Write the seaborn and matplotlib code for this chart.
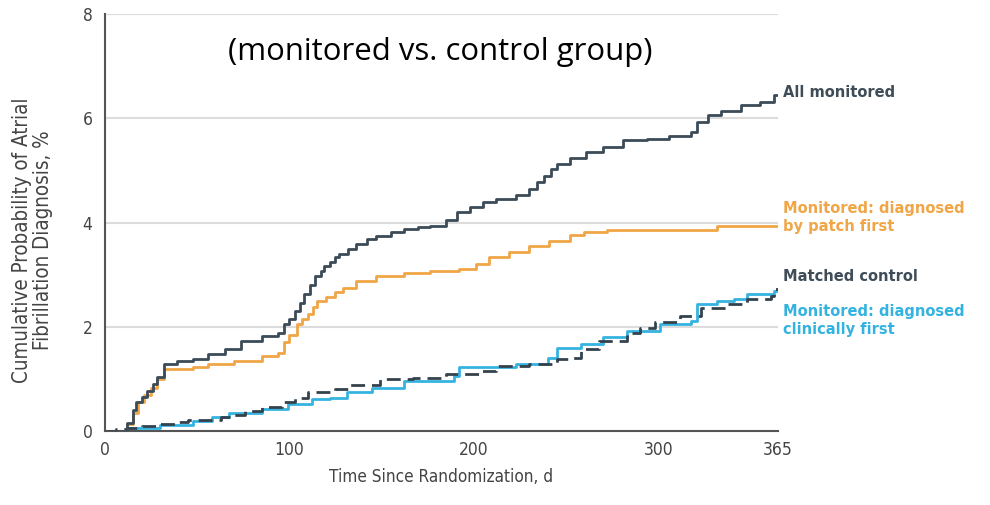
import matplotlib
matplotlib.use("Agg")
import matplotlib.pyplot as plt
import seaborn as sns
import pandas as pd

# ---- data ----
all_days = [0, 12, 15, 17, 20, 23, 26, 28, 32, 39, 48, 56, 65, 74, 85, 94, 97, 100, 103, 106,
            108, 111, 114, 117, 119, 122, 125, 127, 132, 136, 142, 147, 155, 162, 170, 176, 185, 191, 198, 205,
            212, 223, 230, 234, 238, 242, 245, 252, 261, 270, 281, 294, 306, 318, 321, 327, 334, 345, 355, 363, 365]
all_vals = [0, 0.16, 0.4, 0.55, 0.65, 0.77, 0.9, 1.03, 1.28, 1.35, 1.38, 1.47, 1.57, 1.73, 1.83, 1.89, 2.05, 2.15, 2.31, 2.45,
            2.63, 2.8, 2.98, 3.08, 3.17, 3.25, 3.33, 3.4, 3.5, 3.59, 3.68, 3.75, 3.82, 3.88, 3.92, 3.94, 4.04, 4.2, 4.3, 4.39,
            4.45, 4.52, 4.65, 4.78, 4.9, 5.02, 5.13, 5.24, 5.36, 5.45, 5.58, 5.61, 5.67, 5.74, 5.93, 6.06, 6.15, 6.25, 6.31, 6.44, 6.44]

patch_days = [0, 12, 15, 18, 21, 25, 28, 32, 48, 56, 70, 85, 94, 97, 100, 104, 107, 110, 113, 115,
              120, 125, 129, 136, 147, 162, 176, 192, 201, 208, 219, 230, 241, 252, 260, 272, 332, 365]
patch_vals = [0, 0.13, 0.35, 0.55, 0.7, 0.83, 1.0, 1.19, 1.22, 1.28, 1.35, 1.44, 1.5, 1.7, 1.85, 2.05, 2.15, 2.24, 2.38, 2.5,
              2.58, 2.66, 2.75, 2.88, 2.97, 3.04, 3.07, 3.11, 3.2, 3.33, 3.43, 3.56, 3.65, 3.77, 3.81, 3.86, 3.94, 3.94]

ctrl_days = [0, 6, 12, 20, 30, 38, 45, 63, 70, 76, 85, 96, 103, 110, 125, 133, 149, 167, 185, 203,
             212, 230, 245, 252, 258, 268, 283, 290, 298, 312, 323, 337, 348, 361, 363, 365]
ctrl_vals = [0, 0.03, 0.06, 0.1, 0.13, 0.18, 0.22, 0.26, 0.31, 0.38, 0.46, 0.55, 0.63, 0.74, 0.8, 0.89, 1.0, 1.02, 1.09, 1.15,
             1.25, 1.28, 1.38, 1.41, 1.57, 1.73, 1.89, 1.98, 2.1, 2.21, 2.37, 2.43, 2.53, 2.6, 2.72, 2.72]

clin_days = [0, 12, 30, 48, 58, 67, 85, 99, 112, 122, 131, 145, 162, 189, 192, 212, 223, 240, 245, 258,
             270, 283, 301, 318, 321, 332, 341, 348, 363, 365]
clin_vals = [0, 0.06, 0.12, 0.19, 0.27, 0.35, 0.42, 0.51, 0.61, 0.64, 0.74, 0.83, 0.96, 1.06, 1.22, 1.23, 1.28, 1.41, 1.6, 1.67,
             1.8, 1.92, 2.05, 2.12, 2.44, 2.5, 2.53, 2.63, 2.69, 2.69]

x_ticks = [0, 100, 200, 300, 365]
y_ticks = [0, 2, 4, 6, 8]

label_all = "All monitored"
label_patch = "Monitored: diagnosed\nby patch first"
label_ctrl = "Matched control"
label_clin = "Monitored: diagnosed\nclinically first"
subtitle = "(monitored vs. control group)"

# ---- style ----
sns.set_theme(style="white")
plt.rcParams['font.family'] = ['DejaVu Sans']

c_all = "#3b4b58"
c_patch = "#f0a646"
c_ctrl = "#34424d"
c_clin = "#35b3e0"
grey = "#555555"

fig = plt.figure(figsize=(9.9, 5.05), dpi=100)
ax = fig.add_axes([0.106, 0.1465, 0.68, 0.8255])

def draw(days, vals, color, ls="-", z=3):
    df = pd.DataFrame({"day": days, "val": vals})
    sns.lineplot(data=df, x="day", y="val", ax=ax, color=color, linewidth=2.0,
                 drawstyle="steps-post", estimator=None, sort=False, linestyle=ls, zorder=z)

draw(clin_days, clin_vals, c_clin, z=3)
draw(ctrl_days, ctrl_vals, c_ctrl, ls=(0, (5, 2.5)), z=4)
draw(patch_days, patch_vals, c_patch, z=3)
draw(all_days, all_vals, c_all, z=4)

ax.set_xlim(0, 365)
ax.set_ylim(0, 8)
ax.set_xticks(x_ticks)
ax.set_yticks(y_ticks)
ax.set_xticklabels([str(t) for t in x_ticks])
ax.set_yticklabels([str(t) for t in y_ticks])

for yv in y_ticks[1:]:
    ax.axhline(yv, color="#dcdcdc", linewidth=1.5, zorder=1)

for s in ["top", "right"]:
    ax.spines[s].set_visible(False)
for s in ["left", "bottom"]:
    ax.spines[s].set_color(grey)
    ax.spines[s].set_linewidth(1.5)

ax.tick_params(axis="x", direction="inout", length=8, width=1.3, color=grey,
               labelsize=12.5, labelcolor="#444444", pad=3)
ax.tick_params(axis="y", direction="out", length=5, width=1.3, color=grey,
               labelsize=12.5, labelcolor="#444444", pad=4)
for lab in ax.get_xticklabels() + ax.get_yticklabels():
    lab.set_fontstretch("condensed")

ax.set_xlabel("Time Since Randomization, d", fontsize=12.3, color="#444444",
              fontstretch="condensed", labelpad=7)
ax.set_ylabel("Cumulative Probability of Atrial\nFibrillation Diagnosis, %", fontsize=14.8,
              color="#444444", fontstretch="condensed", linespacing=1.1)
ax.yaxis.set_label_coords(-0.077, 0.458)

tx = 367.5
fs = 11.7
ax.text(tx, 6.5, label_all, color="#3f4d59", fontsize=fs, fontweight="bold",
        fontstretch="condensed", va="center", ha="left", clip_on=False)
ax.text(tx, 4.1, label_patch, color=c_patch, fontsize=fs, fontweight="bold",
        fontstretch="condensed", va="center", ha="left", clip_on=False, linespacing=1.25)
ax.text(tx, 2.96, label_ctrl, color="#3f4d59", fontsize=fs, fontweight="bold",
        fontstretch="condensed", va="center", ha="left", clip_on=False)
ax.text(tx, 2.12, label_clin, color=c_clin, fontsize=fs, fontweight="bold",
        fontstretch="condensed", va="center", ha="left", clip_on=False, linespacing=1.25)

fig.text(0.445, 0.897, subtitle, fontsize=22.4, color="black", ha="center", va="center",
         family=["Open Sans", "DejaVu Sans"])

fig.savefig("out.png", dpi=100)
